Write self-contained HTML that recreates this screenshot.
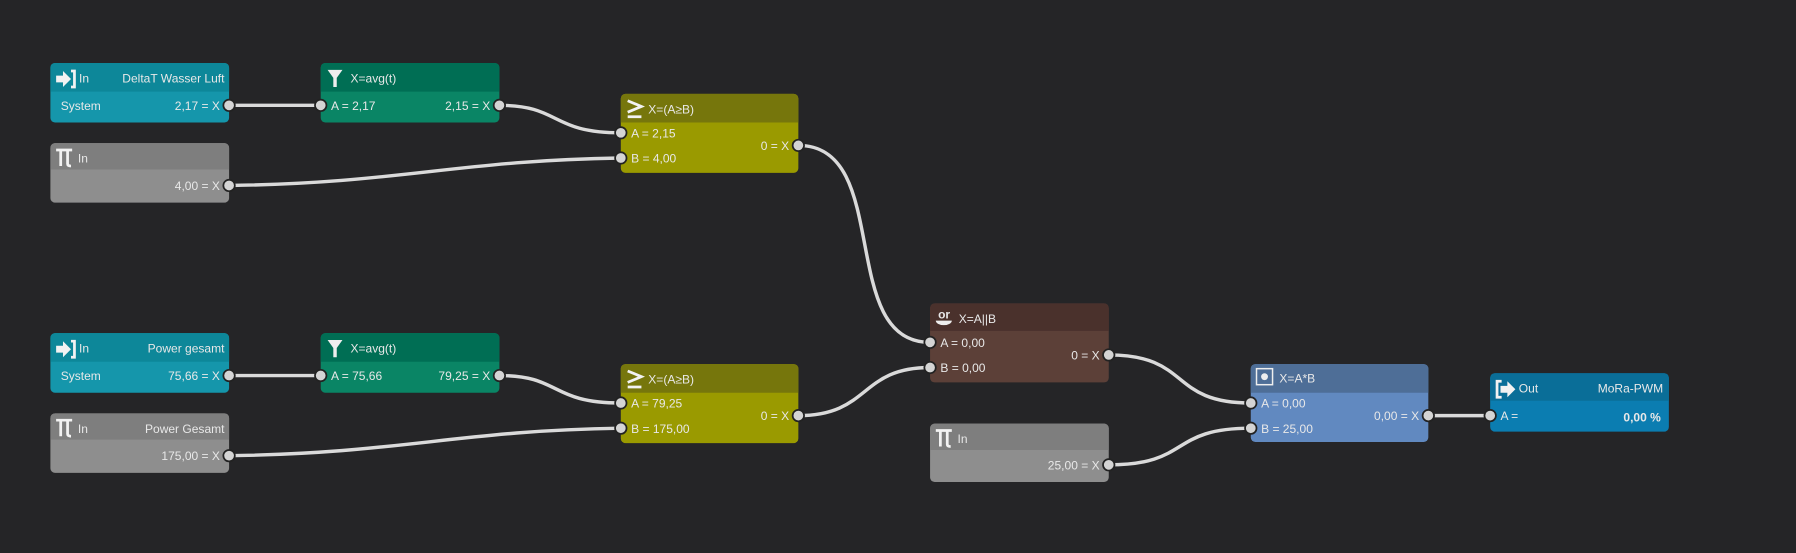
<!DOCTYPE html>
<html><head><meta charset="utf-8"><style>
html,body{margin:0;padding:0;background:#252527;}
svg{display:block}
text{font-family:"Liberation Sans","DejaVu Sans",sans-serif;font-size:10.5px;fill:#e8e8e8}
.w{fill:none;stroke:#dadada;stroke-width:3}
.p{fill:#d4d4d4;stroke:#222;stroke-width:1.5}
.ic{fill:none;stroke:#f2f2f2;stroke-width:2.4}
</style></head><body>
<svg width="1796" height="553" viewBox="0 0 1568 483" preserveAspectRatio="none">
<defs>
<g id="pi"><path class="ic" d="M0,2 H14 M4,2 V16 M10,2 V14 q0,2 3,2"/></g>
<g id="ge"><path class="ic" d="M1,2 L13,7 L1,12 M1,16 H13"/></g>
<g id="inI"><path d="M0,5 h6 v-4 l7,7 l-7,7 v-4 h-6 z" fill="#f2f2f2"/><path class="ic" d="M13,1 h3 v14 h-3" stroke-width="2"/></g>
<g id="outI"><path class="ic" d="M5,1 h-4 v14 h4" stroke-width="2"/><path d="M4,5 h6 v-4 l7,7 l-7,7 v-4 h-6 z" fill="#f2f2f2"/></g>
</defs>
<rect width="1568" height="483" fill="#252527"/>
<path class="w" d="M200,92 L280,92"/>
<path class="w" d="M200,328 L280,328"/>
<path class="w" d="M436,92 C490,92 480,116 542,116"/>
<path class="w" d="M200,162 C350,160 400,140 542,138"/>
<path class="w" d="M436,328 C490,328 480,352 542,352"/>
<path class="w" d="M200,398 C350,396 400,376 542,374"/>
<path class="w" d="M697,127 C780,127 730,299 812,299"/>
<path class="w" d="M697,363 C760,363 750,321 812,321"/>
<path class="w" d="M968,310 C1040,310 1020,352 1092,352"/>
<path class="w" d="M968,406 C1040,406 1020,374 1092,374"/>
<path class="w" d="M1247,363 L1301,363"/>

<!-- In1 -->
<rect x="44" y="55" width="156" height="52" rx="4" fill="#1596ab"/>
<path d="M44,80 V59 a4,4 0 0 1 4,-4 H196 a4,4 0 0 1 4,4 V80 Z" fill="#0d8799"/>
<use href="#inI" x="49" y="61"/>
<text x="69" y="72">In</text><text x="196" y="72" text-anchor="end">DeltaT Wasser Luft</text>
<text x="53" y="96">System</text><text x="192" y="96" text-anchor="end">2,17 = X</text>
<!-- Avg1 -->
<rect x="280" y="55" width="156" height="52" rx="4" fill="#0a8565"/>
<path d="M280,80 V59 a4,4 0 0 1 4,-4 H432 a4,4 0 0 1 4,4 V80 Z" fill="#006e54"/>
<path d="M286,61 h13 l-5,7 v8 h-3 v-8 z" fill="#eee"/>
<text x="306" y="72">X=avg(t)</text>
<text x="289" y="96">A = 2,17</text><text x="428" y="96" text-anchor="end">2,15 = X</text>
<!-- Const1 -->
<rect x="44" y="125" width="156" height="52" rx="4" fill="#8e8e8e"/>
<path d="M44,148 V129 a4,4 0 0 1 4,-4 H196 a4,4 0 0 1 4,4 V148 Z" fill="#7e7e7e"/>
<use href="#pi" x="49" y="129"/>
<text x="68" y="142">In</text>
<text x="192" y="166" text-anchor="end" fill="#ddd">4,00 = X</text>
<!-- Ge1 -->
<rect x="542" y="82" width="155" height="69" rx="4" fill="#9a9a00"/>
<path d="M542,107 V86 a4,4 0 0 1 4,-4 H693 a4,4 0 0 1 4,4 V107 Z" fill="#76760c"/>
<use href="#ge" x="547" y="86"/>
<text x="566" y="99">X=(A≥B)</text>
<text x="551" y="120">A = 2,15</text><text x="551" y="142">B = 4,00</text>
<text x="689" y="131" text-anchor="end">0 = X</text>
<!-- In2 -->
<rect x="44" y="291" width="156" height="52" rx="4" fill="#1596ab"/>
<path d="M44,316 V295 a4,4 0 0 1 4,-4 H196 a4,4 0 0 1 4,4 V316 Z" fill="#0d8799"/>
<use href="#inI" x="49" y="297"/>
<text x="69" y="308">In</text><text x="196" y="308" text-anchor="end">Power gesamt</text>
<text x="53" y="332">System</text><text x="192" y="332" text-anchor="end">75,66 = X</text>
<!-- Avg2 -->
<rect x="280" y="291" width="156" height="52" rx="4" fill="#0a8565"/>
<path d="M280,316 V295 a4,4 0 0 1 4,-4 H432 a4,4 0 0 1 4,4 V316 Z" fill="#006e54"/>
<path d="M286,297 h13 l-5,7 v8 h-3 v-8 z" fill="#eee"/>
<text x="306" y="308">X=avg(t)</text>
<text x="289" y="332">A = 75,66</text><text x="428" y="332" text-anchor="end">79,25 = X</text>
<!-- Const2 -->
<rect x="44" y="361" width="156" height="52" rx="4" fill="#8e8e8e"/>
<path d="M44,384 V365 a4,4 0 0 1 4,-4 H196 a4,4 0 0 1 4,4 V384 Z" fill="#7e7e7e"/>
<use href="#pi" x="49" y="365"/>
<text x="68" y="378">In</text><text x="196" y="378" text-anchor="end">Power Gesamt</text>
<text x="192" y="402" text-anchor="end" fill="#ddd">175,00 = X</text>
<!-- Ge2 -->
<rect x="542" y="318" width="155" height="69" rx="4" fill="#9a9a00"/>
<path d="M542,343 V322 a4,4 0 0 1 4,-4 H693 a4,4 0 0 1 4,4 V343 Z" fill="#76760c"/>
<use href="#ge" x="547" y="322"/>
<text x="566" y="335">X=(A≥B)</text>
<text x="551" y="356">A = 79,25</text><text x="551" y="378">B = 175,00</text>
<text x="689" y="367" text-anchor="end">0 = X</text>
<!-- Or -->
<rect x="812" y="265" width="156" height="69" rx="4" fill="#5c4038"/>
<path d="M812,289 V269 a4,4 0 0 1 4,-4 H964 a4,4 0 0 1 4,4 V289 Z" fill="#4a312c"/>
<text x="819" y="278" font-size="7" font-weight="bold">or</text>
<path d="M817,280 h14 a7,4 0 0 1 -14,0 z" fill="#eee"/>
<text x="837" y="282">X=A||B</text>
<text x="821" y="303">A = 0,00</text><text x="821" y="325">B = 0,00</text>
<text x="960" y="314" text-anchor="end">0 = X</text>
<!-- Const3 -->
<rect x="812" y="370" width="156" height="51" rx="4" fill="#8e8e8e"/>
<path d="M812,393 V374 a4,4 0 0 1 4,-4 H964 a4,4 0 0 1 4,4 V393 Z" fill="#7e7e7e"/>
<use href="#pi" x="817" y="374"/>
<text x="836" y="387">In</text>
<text x="960" y="410" text-anchor="end" fill="#ddd">25,00 = X</text>
<!-- Mul -->
<rect x="1092" y="318" width="155" height="68" rx="4" fill="#6189c0"/>
<path d="M1092,343 V322 a4,4 0 0 1 4,-4 H1243 a4,4 0 0 1 4,4 V343 Z" fill="#4e6e97"/>
<rect x="1097" y="322" width="14" height="14" fill="none" stroke="#eee" stroke-width="1.3"/>
<circle cx="1104" cy="329" r="3" fill="#eee"/>
<text x="1117" y="334">X=A*B</text>
<text x="1101" y="356">A = 0,00</text><text x="1101" y="378">B = 25,00</text>
<text x="1239" y="367" text-anchor="end">0,00 = X</text>
<!-- Out -->
<rect x="1301" y="326" width="156" height="51" rx="4" fill="#0b7db1"/>
<path d="M1301,350 V330 a4,4 0 0 1 4,-4 H1453 a4,4 0 0 1 4,4 V350 Z" fill="#0a6e98"/>
<use href="#outI" x="1306" y="332"/>
<text x="1326" y="343">Out</text><text x="1452" y="343" text-anchor="end">MoRa-PWM</text>
<text x="1310" y="367">A =</text>
<text x="1450" y="368" text-anchor="end" font-weight="bold" font-size="12.5">0,00 %</text>

<g>
<circle class="p" cx="200" cy="92" r="5"/><circle class="p" cx="280" cy="92" r="5"/><circle class="p" cx="436" cy="92" r="5"/>
<circle class="p" cx="200" cy="162" r="5"/>
<circle class="p" cx="542" cy="116" r="5"/><circle class="p" cx="542" cy="138" r="5"/><circle class="p" cx="697" cy="127" r="5"/>
<circle class="p" cx="200" cy="328" r="5"/><circle class="p" cx="280" cy="328" r="5"/><circle class="p" cx="436" cy="328" r="5"/>
<circle class="p" cx="200" cy="398" r="5"/>
<circle class="p" cx="542" cy="352" r="5"/><circle class="p" cx="542" cy="374" r="5"/><circle class="p" cx="697" cy="363" r="5"/>
<circle class="p" cx="812" cy="299" r="5"/><circle class="p" cx="812" cy="321" r="5"/><circle class="p" cx="968" cy="310" r="5"/>
<circle class="p" cx="968" cy="406" r="5"/>
<circle class="p" cx="1092" cy="352" r="5"/><circle class="p" cx="1092" cy="374" r="5"/><circle class="p" cx="1247" cy="363" r="5"/>
<circle class="p" cx="1301" cy="363" r="5"/>
</g>
</svg>
</body></html>
